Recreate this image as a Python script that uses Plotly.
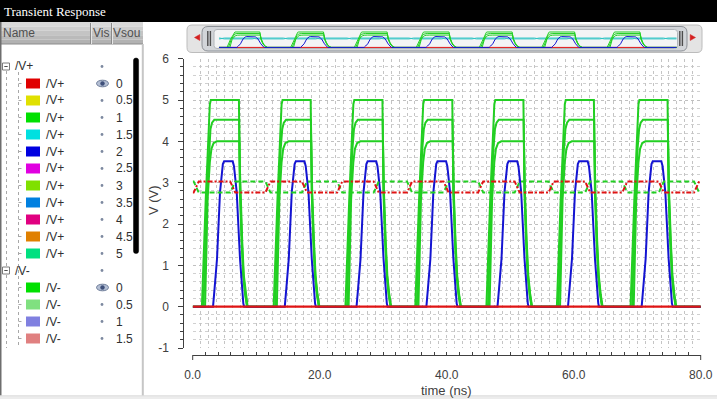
import plotly.graph_objects as go

W, H = 717, 399

# ---------------- data ----------------
PULSE_STARTS = [0.0, 11.3, 22.6, 33.6, 44.8, 55.9, 67.5]          # ns
DIFF_STARTS = [0.0, 11.3, 22.6, 33.6, 44.8, 55.9, 67.5, 78.8]     # ns
SIM_END = 81.3

# one period of each waveform: time offset (ns) / value (V)
G5_T = [1.45, 2.05, 2.7, 2.85, 7.28, 7.36, 7.44, 7.7, 7.95, 8.25, 8.55]
G5_V = [0.0, 2.6, 4.9, 5.0, 5.0, 3.6, 2.77, 1.57, 0.76, 0.3, 0.0]
G45_T = [1.7, 2.2, 2.55, 2.8, 3.05, 3.4, 7.32, 7.4, 7.48, 7.75, 8.0, 8.3, 8.6]
G45_V = [0.0, 2.6, 3.8, 4.3, 4.45, 4.52, 4.52, 3.5, 2.77, 1.57, 0.76, 0.3, 0.0]
G4_T = [1.95, 2.35, 2.7, 2.95, 3.3, 3.8, 7.36, 7.44, 7.52, 7.8, 8.05, 8.35, 8.65]
G4_V = [0.0, 2.6, 3.5, 3.82, 3.96, 4.0, 4.0, 3.3, 2.77, 1.57, 0.76, 0.3, 0.0]
B_T = [3.2, 3.45, 3.83, 4.3, 4.55, 4.75, 4.95, 6.3, 6.5, 6.7, 6.93, 7.45, 7.75, 7.97, 8.1]
B_V = [0.0, 0.45, 1.16, 2.77, 3.25, 3.45, 3.52, 3.52, 3.4, 3.1, 2.77, 1.16, 0.4, 0.08, 0.0]
DIFF_T = [0.0, 0.15, 0.95, 5.9, 6.7]
DP_V = [2.76, 2.76, 3.03, 3.03, 2.76]   # red dash-dot
DN_V = [3.03, 3.03, 2.76, 2.76, 3.03]   # green dashed
BASE_T = [0.0, SIM_END]
BASE_V = [0.0, 0.0]

X_TICKS = [0, 20, 40, 60, 80]
X_TICKTEXT = ["0.0", "20.0", "40.0", "60.0", "80.0"]
Y_TICKS = [-1, 0, 1, 2, 3, 4, 5, 6]
Y_TICKTEXT = ["-1", "0", "1", "2", "3", "4", "5", "6"]

VP_VALUES = ["0", "0.5", "1", "1.5", "2", "2.5", "3", "3.5", "4", "4.5", "5"]
VP_COLORS = ["#e00000", "#e0e000", "#00e000", "#00e0e0", "#0000e0", "#e000e0",
             "#80e000", "#0080e0", "#e00080", "#e08000", "#00e080"]
VM_VALUES = ["0", "0.5", "1", "1.5"]
VM_COLORS = ["#00e000", "#80e080", "#8080e0", "#e08080"]


def px(x):
    return x / W


def py(y):
    return 1 - y / H


def periodic(shape_t, shape_v, starts, end, lead=None):
    xs, ys = [], []
    if lead is not None:
        xs.append(0.0); ys.append(lead)
    for s in starts:
        for t, v in zip(shape_t, shape_v):
            if s + t <= end:
                xs.append(round(s + t, 3)); ys.append(v)
    xs.append(end); ys.append(ys[-1])
    return xs, ys


g5 = periodic(G5_T, G5_V, PULSE_STARTS, SIM_END, 0.0)
g45 = periodic(G45_T, G45_V, PULSE_STARTS, SIM_END, 0.0)
g4 = periodic(G4_T, G4_V, PULSE_STARTS, SIM_END, 0.0)
bl = periodic(B_T, B_V, PULSE_STARTS, SIM_END, 0.0)
dp = periodic(DIFF_T, DP_V, DIFF_STARTS, SIM_END)
dn = periodic(DIFF_T, DN_V, DIFF_STARTS, SIM_END)

GREEN = "#22cf22"
BLUE = "#1414d2"
RED = "#e01414"

fig = go.Figure()
for s in (g4, g45, g5):
    fig.add_trace(go.Scatter(x=s[0], y=s[1], mode="lines", line=dict(color=GREEN, width=2),
                             hoverinfo="skip", xaxis="x", yaxis="y"))
fig.add_trace(go.Scatter(x=bl[0], y=bl[1], mode="lines", line=dict(color=BLUE, width=2),
                         hoverinfo="skip", xaxis="x", yaxis="y"))
fig.add_trace(go.Scatter(x=dn[0], y=dn[1], mode="lines", line=dict(color=GREEN, width=2, dash="5px,3px"),
                         hoverinfo="skip", xaxis="x", yaxis="y"))
fig.add_trace(go.Scatter(x=dp[0], y=dp[1], mode="lines",
                         line=dict(color=RED, width=2, dash="5px,2px,2px,2px"),
                         hoverinfo="skip", xaxis="x", yaxis="y"))
fig.add_trace(go.Scatter(x=BASE_T, y=BASE_V, mode="lines", line=dict(color=RED, width=2.2),
                         hoverinfo="skip", xaxis="x", yaxis="y"))
fig.add_trace(go.Scatter(x=[0, 80], y=[None, None], mode="lines", hoverinfo="skip",
                         xaxis="x3", yaxis="y", showlegend=False))

# overview traces
fig.add_trace(go.Scatter(x=BASE_T, y=BASE_V, mode="lines", line=dict(color=RED, width=1),
                         hoverinfo="skip", xaxis="x2", yaxis="y2"))
for s in (dn, dp):
    fig.add_trace(go.Scatter(x=s[0], y=s[1], mode="lines", line=dict(color="#2ec4c4", width=1),
                             hoverinfo="skip", xaxis="x2", yaxis="y2"))
for s in (g4, g45, g5):
    fig.add_trace(go.Scatter(x=s[0], y=s[1], mode="lines", line=dict(color=GREEN, width=1),
                             hoverinfo="skip", xaxis="x2", yaxis="y2"))
fig.add_trace(go.Scatter(x=bl[0], y=bl[1], mode="lines", line=dict(color=BLUE, width=1),
                         hoverinfo="skip", xaxis="x2", yaxis="y2"))

# ---------------- shapes ----------------
shapes = []


def rect(x0, y0, x1, y1, fill, line=None, lw=0, layer="above"):
    shapes.append(dict(type="rect", xref="paper", yref="paper", x0=px(x0), x1=px(x1),
                       y0=py(y1), y1=py(y0), fillcolor=fill,
                       line=dict(color=line or fill, width=lw), layer=layer))


def seg(x0, y0, x1, y1, color, w=1, dash=None, layer="above"):
    d = dict(color=color, width=w)
    if dash:
        d["dash"] = dash
    shapes.append(dict(type="line", xref="paper", yref="paper", x0=px(x0), x1=px(x1),
                       y0=py(y0), y1=py(y1), line=d, layer=layer))


def P(x, y):
    return f"{px(x):.5f},{py(y):.5f}"


def rrect(x0, y0, x1, y1, r, fill, line, lw=1, layer="above"):
    path = (f"M{P(x0 + r, y0)} L{P(x1 - r, y0)} Q{P(x1, y0)} {P(x1, y0 + r)} "
            f"L{P(x1, y1 - r)} Q{P(x1, y1)} {P(x1 - r, y1)} L{P(x0 + r, y1)} "
            f"Q{P(x0, y1)} {P(x0, y1 - r)} L{P(x0, y0 + r)} Q{P(x0, y0)} {P(x0 + r, y0)} Z")
    shapes.append(dict(type="path", xref="paper", yref="paper", path=path, fillcolor=fill,
                       line=dict(color=line, width=lw), layer=layer))


def tri(pts, fill, layer="above"):
    path = "M" + " L".join(P(x, y) for x, y in pts) + " Z"
    shapes.append(dict(type="path", xref="paper", yref="paper", path=path, fillcolor=fill,
                       line=dict(color=fill, width=0.5), layer=layer))


def circ(cx, cy, r, fill, line=None, lw=0):
    shapes.append(dict(type="circle", xref="paper", yref="paper", x0=px(cx - r), x1=px(cx + r),
                       y0=py(cy + r), y1=py(cy - r), fillcolor=fill,
                       line=dict(color=line or fill, width=lw)))


rect(0, 0, W, 22, "#000000")
bands = ["#d9d9d9", "#cecece", "#c4c4c4", "#bababa", "#b2b2b2"]
for i, c in enumerate(bands):
    rect(0, 22 + i * 4.4, 143, 22 + (i + 1) * 4.4, c)
seg(0, 44, 143, 44, "#8c8c8c", 1)
for xs in (90.5, 111.5):
    seg(xs, 23, xs, 44, "#8a8a8a", 1)
    seg(xs + 1, 23, xs + 1, 44, "#e6e6e6", 1)
rect(0, 22, 1.5, 399, "#6e6e6e")
rect(141.8, 44, 143.8, 399, "#c6c6c6")
rect(0, 395.8, W, 399, "#ececec")
seg(0, 395.8, W, 395.8, "#dcdcdc", 1)
rrect(133.5, 58, 138.6, 253.5, 2.5, "#000000", "#000000", 0.5)

ROW0, DY = 66.5, 17.0
rows_y = [ROW0 + DY * i for i in range(17)]
seg(6.5, 71, 6.5, 348, "#a8a8a8", 1, "dot")
seg(18.5, 72, 18.5, 348, "#a8a8a8", 1, "dot")
for i in list(range(1, 12)) + list(range(13, 17)):
    seg(18.5, rows_y[i], 23.5, rows_y[i], "#a8a8a8", 1, "dot")
for i in (0, 12):
    yc = rows_y[i]
    rect(2.5, yc - 3.5, 9.5, yc + 3.5, "#ffffff", "#7c7c7c", 1)
    seg(4.3, yc, 7.7, yc, "#505050", 1)

annotations = []


def txt(x, y, s, size=12, color="#202020", family="Liberation Sans", xanchor="left", **kw):
    annotations.append(dict(x=px(x), y=py(y), xref="paper", yref="paper", text=s, showarrow=False,
                            xanchor=xanchor, yanchor="middle", borderpad=0,
                            font=dict(size=size, color=color, family=family), **kw))


txt(3, 11.5, "Transient Response", size=13, color="#ffffff", family="Liberation Serif")
txt(2, 33, "Name", color="#505050")
txt(91.5, 33, "Vis", color="#505050")
txt(112, 33, "Vsou", color="#505050")

txt(14, rows_y[0], "/V+", color="#303030")
txt(14, rows_y[12], "/V-", color="#303030")
circ(102, rows_y[0], 1.4, "#7d89a0")
circ(102, rows_y[12], 1.4, "#7d89a0")

children = [(VP_VALUES[k], VP_COLORS[k], "/V+", rows_y[1 + k]) for k in range(len(VP_VALUES))]
children += [(VM_VALUES[k], VM_COLORS[k], "/V-", rows_y[13 + k]) for k in range(len(VM_VALUES))]
for val, col, name, yc in children:
    rect(26, yc - 5, 40, yc + 5, col)
    txt(44.5, yc, name, color="#303030")
    txt(115, yc, val, color="#303030")
    if val == "0":
        shapes.append(dict(type="circle", xref="paper", yref="paper", x0=px(96.5), x1=px(108.5),
                           y0=py(yc + 3.3), y1=py(yc - 3.3), fillcolor="#b4bfd4",
                           line=dict(color="#6d7c99", width=1)))
        circ(102.5, yc, 2.2, "#3f507a")
    else:
        circ(102, yc, 1.4, "#7d89a0")

rrect(187, 25, 702, 52.5, 5, "#e4e4e4", "#bcbcbc", 1, "below")
rrect(202, 26.5, 687, 51, 6, "#d2d5d9", "#8c9096", 1, "below")
rrect(214, 29.5, 677.5, 48.5, 3, "#f3f4f5", "#b2b6ba", 1, "below")
for xh in (207.8, 210.4, 679.8, 682.4):
    seg(xh, 31, xh, 46, "#4c4c4c", 1.4, layer="below")
tri([(194.5, 37.5), (199.8, 34.5), (199.8, 40.5)], "#d42020", "below")
tri([(695.5, 37.5), (690.2, 34.5), (690.2, 40.5)], "#d42020", "below")

seg(192.7, 355, 192.7, 360, "#404040", 1)
seg(700.7, 355, 700.7, 360, "#404040", 1)

txt(153, 200, "V (V)", size=13, color="#404040", xanchor="center", textangle=-90)
txt(446.7, 390, "time (ns)", size=13, color="#404040", xanchor="center")

XD = [px(192.7), px(700.7)]
YD = [py(348.0), py(58.7)]
AX = "#404040"
fig.update_layout(
    template="none",
    width=W, height=H, autosize=False,
    margin=dict(l=0, r=0, t=0, b=0, pad=0, autoexpand=False),
    paper_bgcolor="#ffffff", plot_bgcolor="rgba(0,0,0,0)",
    showlegend=False, hovermode=False,
    xaxis=dict(domain=XD, range=[0, 80], anchor="y", showgrid=True, dtick=1.25, tick0=0,
               griddash="dot", gridcolor="#c4c4c4", gridwidth=1, showticklabels=False,
               ticks="", showline=False, zeroline=False, fixedrange=True, automargin=False),
    xaxis3=dict(overlaying="x", range=[0, 80], anchor="free", position=py(355),
                showline=True, linecolor=AX, linewidth=1, ticks="inside", ticklen=3,
                tickcolor=AX, tickvals=X_TICKS, ticktext=X_TICKTEXT,
                tickfont=dict(size=12, color=AX, family="Liberation Sans"),
                ticklabelstandoff=9, showgrid=False, zeroline=False, automargin=False,
                minor=dict(dtick=2, tick0=0, ticks="inside", ticklen=3, tickcolor=AX, showgrid=False)),
    yaxis=dict(domain=YD, range=[-1, 6], anchor="free", position=px(183.3),
               tickvals=Y_TICKS, ticktext=Y_TICKTEXT,
               showline=True, linecolor=AX, linewidth=1, ticks="outside", ticklen=5, tickcolor=AX,
               tickfont=dict(size=12, color=AX, family="Liberation Sans"), ticklabelstandoff=7,
               showgrid=True, griddash="dot", gridcolor="#c0c0c0", zeroline=False, automargin=False,
               minor=dict(dtick=0.2, tick0=0, ticks="outside", ticklen=3, tickcolor=AX, showgrid=True,
                          griddash="dot", gridcolor="#d0d0d0")),
    xaxis2=dict(domain=[px(218.9), px(676.7)], range=[0, SIM_END], anchor="y2", visible=False,
                automargin=False),
    yaxis2=dict(domain=[py(50.5), py(28.9)], range=[-1, 6], anchor="x2", visible=False,
                automargin=False),
    shapes=shapes, annotations=annotations,
)

fig.write_html("out.html", config={"displayModeBar": False},
               post_script="document.body.style.margin='0px';document.body.style.padding='0px';"
                           "document.body.style.overflow='hidden';")
